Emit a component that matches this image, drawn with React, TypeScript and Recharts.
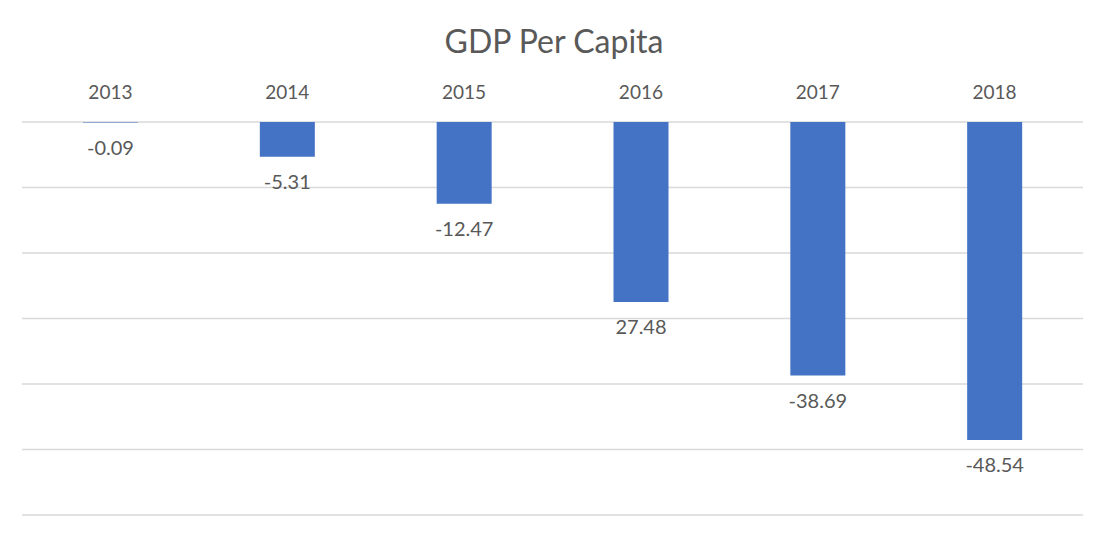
import React from "react";
import { BarChart, Bar, XAxis, YAxis, CartesianGrid, LabelList } from "recharts";

const years = ["2013", "2014", "2015", "2016", "2017", "2018"];
const gdpValues = [-0.09, -5.31, -12.47, -27.48, -38.69, -48.54];
const labelTexts = ["-0.09", "-5.31", "-12.47", "27.48", "-38.69", "-48.54"];
const yTicks = [-60, -50, -40, -30, -20, -10, 0];

const data = years.map((y, i) => ({ year: y, value: gdpValues[i], label: labelTexts[i] }));

const FONT = "Lato, 'Open Sans', sans-serif";
const TEXT = "#595959";

export default function App() {
  return (
    <div style={{ position: "absolute", left: 0, top: 0, width: 1108, height: 533, background: "#fff", fontFamily: FONT }}>
      <div
        style={{
          position: "absolute",
          left: 0,
          top: 25,
          width: 1108,
          textAlign: "center",
          fontSize: 32,
          lineHeight: "32px",
          color: TEXT,
          fontFamily: FONT,
        }}
      >
        GDP Per Capita
      </div>
      <BarChart
        width={1108}
        height={533}
        data={data}
        margin={{ top: 0, right: 25, bottom: 18, left: 22 }}
      >
        <CartesianGrid vertical={false} stroke="#d9d9d9" strokeWidth={1.5} />
        <XAxis
          dataKey="year"
          orientation="top"
          height={122}
          axisLine={false}
          tickLine={false}
          tickSize={0}
          tickMargin={23}
          tick={{ fill: TEXT, fontSize: 19, fontFamily: FONT }}
        />
        <YAxis hide domain={[-60, 0]} ticks={yTicks} type="number" />
        <Bar dataKey="value" fill="#4472c4" barSize={55} isAnimationActive={false}>
          <LabelList
            dataKey="label"
            position="top"
            offset={18}
            style={{ fill: TEXT, fontSize: 20, fontFamily: FONT }}
          />
        </Bar>
      </BarChart>
    </div>
  );
}
